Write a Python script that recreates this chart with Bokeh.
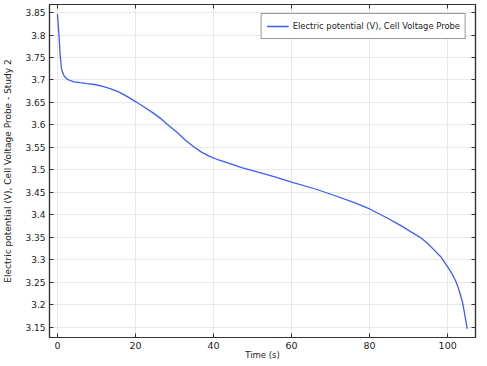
from bokeh.plotting import figure
from bokeh.models import Range1d, LinearAxis, FixedTicker, Legend, LegendItem
from bokeh.embed import file_html
from bokeh.resources import INLINE

time_s = [0, 0.2, 0.43, 0.68, 1.0, 1.3, 1.65, 2.0, 2.5, 3.2, 4.2, 5.8, 7.6, 9.5, 11.6,
          13.5, 15.8, 17.9, 20.0, 22.2, 24.3, 26.5, 28.5, 30.7, 32.8, 35.0, 37.0, 39.0,
          41.3, 43.8, 47.2, 51.4, 55.5, 60.0, 65.9, 71.0, 76.1, 80.0, 84.5, 88.0, 90.6,
          93.1, 94.9, 96.5, 98.3, 100.0, 101.1, 102.0, 102.7, 103.3, 103.8, 104.2, 104.6,
          105.0]
voltage = [3.847, 3.822, 3.794, 3.757, 3.727, 3.717, 3.7105, 3.706, 3.7017, 3.699, 3.696,
           3.694, 3.692, 3.690, 3.686, 3.681, 3.673, 3.663, 3.652, 3.640, 3.628, 3.614,
           3.599, 3.583, 3.566, 3.551, 3.539, 3.530, 3.522, 3.515, 3.505, 3.495, 3.485,
           3.473, 3.458, 3.443, 3.427, 3.413, 3.393, 3.376, 3.362, 3.349, 3.336, 3.322,
           3.306, 3.284, 3.269, 3.254, 3.238, 3.221, 3.205, 3.187, 3.167, 3.146]

x_ticks = [0, 20, 40, 60, 80, 100]
y_ticks = [3.15, 3.2, 3.25, 3.3, 3.35, 3.4, 3.45, 3.5, 3.55, 3.6, 3.65, 3.7, 3.75, 3.8, 3.85]

series_label = "Electric potential (V), Cell Voltage Probe"
x_label = "Time (s)"
y_label = "Electric potential (V), Cell Voltage Probe - Study 2"

FONT = "DejaVu Sans"
AX = "#333333"
TXT = "#222222"

p = figure(width=487, height=366, output_backend="svg", toolbar_location=None,
           x_range=Range1d(-2.04, 107.13), y_range=Range1d(3.127, 3.868),
           min_border_left=46, min_border_right=12, min_border_top=4, min_border_bottom=29)
p.background_fill_color = "white"
p.border_fill_color = "white"
p.outline_line_color = AX
p.outline_line_width = 1.2

r = p.line(time_s, voltage, line_color="#3d5cff", line_width=1.3)

def style_axis(ax, show_labels=True):
    ax.axis_line_color = AX
    ax.axis_line_width = 1.2
    ax.major_tick_in = 4
    ax.major_tick_out = 0
    ax.major_tick_line_color = AX
    ax.minor_tick_line_color = None
    ax.major_label_text_font = FONT
    ax.major_label_text_font_size = "9px"
    ax.major_label_text_color = TXT
    ax.axis_label_text_font = FONT
    ax.axis_label_text_font_size = "8.5px"
    ax.axis_label_text_font_style = "normal"
    ax.axis_label_text_color = TXT
    if not show_labels:
        ax.major_label_text_font_size = "0px"
        ax.major_label_text_color = None
        ax.major_label_standoff = 0

xa = p.xaxis[0]
xa.ticker = FixedTicker(ticks=x_ticks)
xa.axis_label = x_label
style_axis(xa)
xa.major_label_text_font_size = "9.5px"
xa.major_label_standoff = 4
xa.axis_label_standoff = -2

ya = p.yaxis[0]
ya.ticker = FixedTicker(ticks=y_ticks)
ya.axis_label = y_label
style_axis(ya)
ya.axis_label_text_font_size = "9px"
ya.major_label_standoff = 4
ya.axis_label_standoff = 9

top = LinearAxis(ticker=FixedTicker(ticks=x_ticks))
style_axis(top, show_labels=False)
p.add_layout(top, "above")

right = LinearAxis(ticker=FixedTicker(ticks=y_ticks))
style_axis(right, show_labels=False)
p.add_layout(right, "right")

p.xgrid.ticker = FixedTicker(ticks=x_ticks)
p.ygrid.ticker = FixedTicker(ticks=y_ticks)
p.grid.grid_line_color = "#e8e8e8"
p.grid.grid_line_width = 1

legend = Legend(items=[LegendItem(label=series_label, renderers=[r])],
                location="top_right", margin=9, padding=5, spacing=0,
                glyph_width=22, glyph_height=14, label_height=14, label_standoff=4,
                label_text_font=FONT, label_text_font_size="8.4px",
                label_text_color=TXT,
                border_line_color=AX, border_line_width=1.5,
                background_fill_color="white", background_fill_alpha=1)
p.add_layout(legend, "center")

open("out.html", "w").write(file_html(p, INLINE))
